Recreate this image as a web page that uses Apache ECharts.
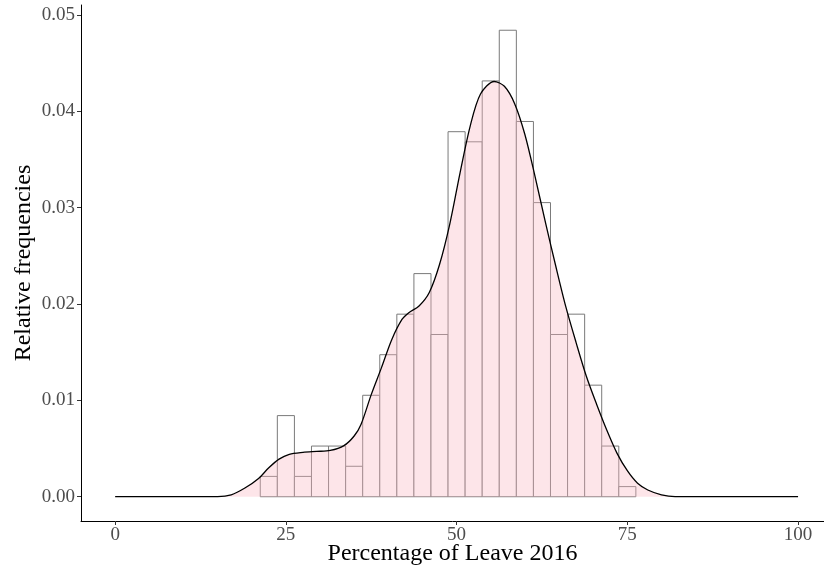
<!DOCTYPE html>
<html>
<head>
<meta charset="utf-8">
<script src="https://cdn.jsdelivr.net/npm/echarts@6/dist/echarts.min.js"></script>
<style>
html,body{margin:0;padding:0;background:#fff;}
#chart{width:824px;height:571px;}
</style>
</head>
<body>
<div id="chart"></div>
<script>
// Histogram: bin centres (width 2.5) and relative frequencies
const binCenters = [22.5, 25, 27.5, 30, 32.5, 35, 37.5, 40, 42.5, 45, 47.5, 50, 52.5, 55, 57.5, 60, 62.5, 65, 67.5, 70, 72.5, 75];
const binValues  = [0.00211, 0.00842, 0.00211, 0.00526, 0.00526, 0.00316, 0.01053, 0.01474, 0.01895, 0.02316, 0.01684, 0.03789, 0.03684, 0.04316, 0.04842, 0.03895, 0.03053, 0.01684, 0.01895, 0.01158, 0.00526, 0.00105];
const binWidth = 2.5;

// Density curve
const densX = [0, 10, 15, 17, 19, 21, 22.5, 24, 25.5, 27.5, 29.5, 31.5, 33.5, 35, 36, 37.5, 39, 40.5, 42, 43, 44.5, 46, 47.5, 49, 50.5, 52, 53.5, 55.5, 57, 58.5, 60, 61.5, 63, 64.5, 66, 67.5, 69, 70.5, 72, 73.5, 75, 76.5, 78, 80, 82, 90, 100];
const densY = [0, 0, 0.00001, 0.0002, 0.0009, 0.0019, 0.0030, 0.0039, 0.0044, 0.0046, 0.0047, 0.0048, 0.0053, 0.0063, 0.0075, 0.0106, 0.0134, 0.0163, 0.0184, 0.0191, 0.0198, 0.0212, 0.0241, 0.0283, 0.0336, 0.0385, 0.0418, 0.0431, 0.0426, 0.0408, 0.0376, 0.0332, 0.0285, 0.0240, 0.0197, 0.0160, 0.0125, 0.0096, 0.0069, 0.0045, 0.0027, 0.0014, 0.0007, 0.0002, 0.00001, 0, 0];

const xTicks = [0, 25, 50, 75, 100];
const yTicks = [0, 0.01, 0.02, 0.03, 0.04, 0.05];

const histData = binCenters.map((c, i) => [c - binWidth / 2, c + binWidth / 2, binValues[i]]);
const densData = densX.map((x, i) => [x, densY[i]]);

const chart = echarts.init(document.getElementById('chart'), null, {renderer: 'canvas'});
const serif = '"Liberation Serif", "DejaVu Serif", serif';

chart.setOption({
  animation: false,
  backgroundColor: '#ffffff',
  grid: {left: 81, right: 0, top: 5, bottom: 50, containLabel: false, outerBoundsMode: 'none'},
  xAxis: {
    type: 'value',
    min: -5,
    max: 103.8,
    name: 'Percentage of Leave 2016',
    nameLocation: 'middle',
    nameGap: 21,
    nameMoveOverlap: false,
    nameTextStyle: {fontFamily: serif, fontSize: 24, color: '#000'},
    axisLine: {show: true, onZero: false, lineStyle: {color: '#000', width: 1}},
    axisTick: {show: true, customValues: xTicks, length: 4, lineStyle: {color: '#333', width: 1}},
    axisLabel: {customValues: xTicks, fontFamily: serif, fontSize: 19, color: '#4d4d4d', margin: 5},
    splitLine: {show: false}
  },
  yAxis: {
    type: 'value',
    min: -0.00252,
    max: 0.05104,
    name: 'Relative frequencies',
    nameLocation: 'middle',
    nameGap: 45,
    nameMoveOverlap: false,
    nameRotate: 90,
    nameTextStyle: {fontFamily: serif, fontSize: 24, color: '#000'},
    axisLine: {show: true, onZero: false, lineStyle: {color: '#000', width: 1}},
    axisTick: {show: true, customValues: yTicks, length: 4, lineStyle: {color: '#333', width: 1}},
    axisLabel: {customValues: yTicks, fontFamily: serif, fontSize: 19, color: '#4d4d4d', margin: 6,
      formatter: v => v.toFixed(2)},
    splitLine: {show: false}
  },
  series: [
    {
      type: 'custom',
      data: histData,
      z: 1,
      renderItem: function (params, api) {
        const p0 = api.coord([api.value(0), api.value(2)]);
        const p1 = api.coord([api.value(1), 0]);
        return {
          type: 'rect',
          shape: {x: p0[0], y: p0[1], width: p1[0] - p0[0], height: p1[1] - p0[1]},
          style: {fill: '#ffffff', stroke: '#7a7a7a', lineWidth: 1}
        };
      }
    },
    {
      type: 'line',
      data: densData,
      z: 2,
      smooth: 0.3,
      symbol: 'none',
      lineStyle: {color: '#000', width: 1.3},
      areaStyle: {color: 'rgba(250,180,192,0.5)', origin: 0}
    }
  ]
});
</script>
</body>
</html>
